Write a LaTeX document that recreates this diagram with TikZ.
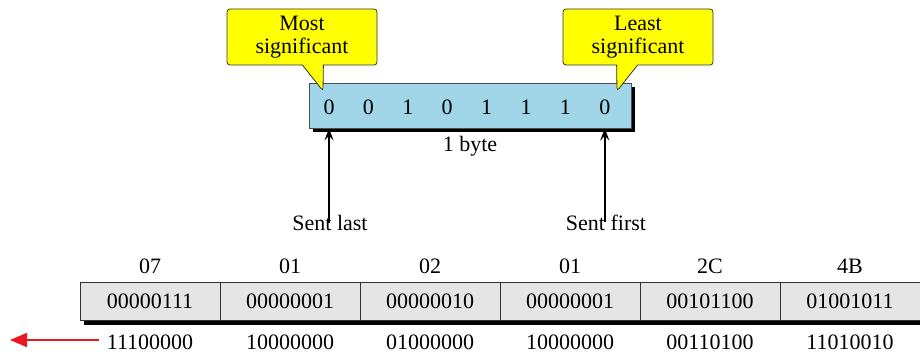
\documentclass[tikz,border=0pt]{standalone}
\usepackage{fontspec}
\setmainfont{Liberation Serif}
\usetikzlibrary{arrows.meta,shapes.callouts}
\definecolor{bytefill}{RGB}{160,214,232}
\definecolor{cellfill}{RGB}{229,229,229}
\definecolor{callfill}{RGB}{255,255,0}
\definecolor{arrred}{RGB}{230,25,30}
\tikzset{
  txt/.style={font=\fontsize{22}{24}\selectfont, inner sep=0pt},
  bit/.style={txt, anchor=base},
  callbox/.style={rectangle callout, draw=black!80, line width=0.8pt, fill=callfill,
    rounded corners=3pt, minimum width=150pt, minimum height=56pt, inner sep=0pt,
    align=center, callout pointer width=21pt, font=\fontsize{22}{23.5}\selectfont},
  cell/.style={draw=black!80, line width=0.8pt, fill=cellfill, minimum width=140pt,
    minimum height=38pt, inner sep=0pt, font=\fontsize{22}{24}\selectfont},
  shadowbox/.style={fill=black, draw=none, inner sep=0pt},
  blackarr/.style={line width=2pt, -{Stealth[length=12pt,width=9pt,inset=4.5pt]}},
  redarr/.style={draw=arrred, line width=1.8pt, -{Triangle[length=17pt,width=14pt]}},
}
\begin{document}
\begin{tikzpicture}[x=1pt,y=-1pt]
\useasboundingbox (0,0) rectangle (920,355);
% byte box
\node[shadowbox, minimum width=322pt, minimum height=45pt] (byteshadow) at (474,109.5) {};
\node[draw=black!70, line width=0.8pt, fill=bytefill, minimum width=322pt, minimum height=45pt, inner sep=0pt] (byte) at (470,105.5) {};
\foreach \i/\b in {1/0,2/0,3/1,4/0,5/1,6/1,7/1,8/0}{
  \node[bit] (b\i) at ({329+39.4*(\i-1)},115) {\b};
}
\node[bit] (bytelbl) at (470,152) {1 byte};
% callouts
\node[callbox, callout absolute pointer={(323,91)}] (most) at (302,37) {Most\\significant};
\node[callbox, callout absolute pointer={(617,91)}] (least) at (638,37) {Least\\significant};
% sent labels and arrows
\node[bit] (sentlast) at (330,231) {Sent last};
\node[bit] (sentfirst) at (606,231) {Sent first};
\draw[blackarr] ([yshift=-7pt]sentlast.north -| b1) -- (b1 |- byte.south);
\draw[blackarr] ([yshift=-7pt]sentfirst.north -| b8) -- (b8 |- byte.south);
% bottom row
\node[shadowbox, minimum width=840pt, minimum height=38pt] (rowshadow) at (504,306) {};
\foreach \i/\h/\v/\r in {1/07/00000111/11100000,2/01/00000001/10000000,3/02/00000010/01000000,4/01/00000001/10000000,5/2C/00101100/00110100,6/4B/01001011/11010010}{
  \node[cell] (c\i) at ({150+140*(\i-1)},301) {\v};
  \node[bit] (h\i) at ({150+140*(\i-1)},273) {\h};
  \node[bit, inner xsep=8pt] (r\i) at ({150+140*(\i-1)},349) {\r};
}
\coordinate (redend) at (10,340);
\draw[redarr] (r1.west |- redend) -- (redend);
\end{tikzpicture}
\end{document}
